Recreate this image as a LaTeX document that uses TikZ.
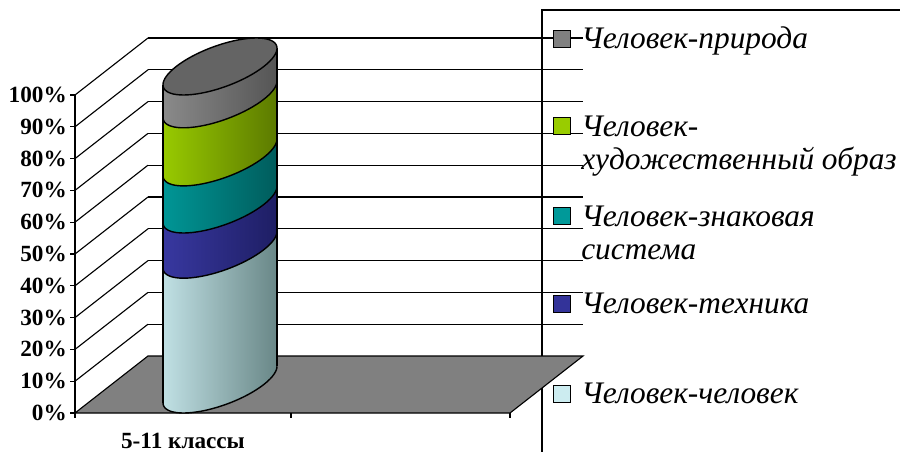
\documentclass[tikz,border=0pt]{standalone}
\usepackage{fontspec}
\setmainfont{Liberation Serif}[ItalicFont={Liberation Serif Italic}, BoldFont={Liberation Serif Bold}]

\definecolor{floorgray}{RGB}{128,128,128}
\definecolor{keyPriroda}{RGB}{128,128,128}
\definecolor{keyObraz}{RGB}{153,204,0}
\definecolor{keyZnak}{RGB}{0,153,153}
\definecolor{keyTech}{RGB}{51,51,153}
\definecolor{keyChel}{RGB}{204,236,240}
\definecolor{chelL}{RGB}{192,224,228}
\definecolor{chelR}{RGB}{105,135,135}
\definecolor{techL}{RGB}{56,56,160}
\definecolor{techR}{RGB}{30,30,100}
\definecolor{znakL}{RGB}{0,150,150}
\definecolor{znakR}{RGB}{0,92,92}
\definecolor{obrazL}{RGB}{152,202,0}
\definecolor{obrazR}{RGB}{92,122,0}
\definecolor{prirodaL}{RGB}{138,138,138}
\definecolor{prirodaR}{RGB}{85,85,85}
\definecolor{topgray}{RGB}{100,100,100}

% front arc of the cylinder at a given height
\newcommand{\cylarc}[3]{plot[domain=#1:#2, samples=40, smooth] ({220+43.8*cos(\x)+36.5*sin(\x)}, {#3-28.5*sin(\x)})}
\newcommand{\cylarcto}[3]{-- plot[domain=#1:#2, samples=40, smooth] ({220+43.8*cos(\x)+36.5*sin(\x)}, {#3-28.5*sin(\x)})}

\begin{document}
\begin{tikzpicture}[x=0.025cm, y=-0.025cm,
        every node/.style={inner sep=0pt},
        ylab/.style={anchor=east, font=\fontsize{16.5}{18}\selectfont\bfseries},
        legtext/.style={anchor=base west, font=\fontsize{22.3}{25}\selectfont\itshape},
        keybox/.style={draw, line width=0.6pt, minimum size=0.425cm},
        grid/.style={line width=0.8pt}]
        \useasboundingbox (0,0) rectangle (900,452);
        \clip (0,0) rectangle (900,452);

        % legend frame
        \draw[grid] (542,10) rectangle (920,480);

        % back wall
        \draw[grid] (148,38) -- (583,38);
        \draw[grid] (148,69.8) -- (583,69.8);
        \draw[grid] (148,101.6) -- (583,101.6);
        \draw[grid] (148,133.4) -- (583,133.4);
        \draw[grid] (148,165.2) -- (583,165.2);
        \draw[grid] (148,197) -- (583,197);
        \draw[grid] (148,228.8) -- (583,228.8);
        \draw[grid] (148,260.6) -- (583,260.6);
        \draw[grid] (148,292.4) -- (583,292.4);
        \draw[grid] (148,324.2) -- (583,324.2);

        % side wall
        \draw[grid] (75,95) -- (148,38);
        \draw[grid] (75,126.8) -- (148,69.8);
        \draw[grid] (75,158.6) -- (148,101.6);
        \draw[grid] (75,190.4) -- (148,133.4);
        \draw[grid] (75,222.2) -- (148,165.2);
        \draw[grid] (75,254) -- (148,197);
        \draw[grid] (75,285.8) -- (148,228.8);
        \draw[grid] (75,317.6) -- (148,260.6);
        \draw[grid] (75,349.4) -- (148,292.4);
        \draw[grid] (75,381.2) -- (148,324.2);

        % floor
        \draw[grid, fill=floorgray] (75,413) -- (510,413) -- (583,356) -- (148,356) -- cycle;

        % axes
        \draw[grid] (75,95) -- (75,413);
        \draw[grid] (70,95) -- (75,95);
        \draw[grid] (70,126.8) -- (75,126.8);
        \draw[grid] (70,158.6) -- (75,158.6);
        \draw[grid] (70,190.4) -- (75,190.4);
        \draw[grid] (70,222.2) -- (75,222.2);
        \draw[grid] (70,254) -- (75,254);
        \draw[grid] (70,285.8) -- (75,285.8);
        \draw[grid] (70,317.6) -- (75,317.6);
        \draw[grid] (70,349.4) -- (75,349.4);
        \draw[grid] (70,381.2) -- (75,381.2);
        \draw[grid] (70,413) -- (75,413);
        \draw[grid] (75,413) -- (75,418);
        \draw[grid] (291,413) -- (291,418);
        \draw[grid] (510,413) -- (510,418);

        % cylinder
        \shade[left color=chelL, right color=chelR] \cylarc{219.8}{399.8}{384.5} \cylarcto{399.8}{219.8}{249.7} -- cycle;
        \shade[left color=techL, right color=techR] \cylarc{219.8}{399.8}{249.7} \cylarcto{399.8}{219.8}{204.5} -- cycle;
        \shade[left color=znakL, right color=znakR] \cylarc{219.8}{399.8}{204.5} \cylarcto{399.8}{219.8}{157.4} -- cycle;
        \shade[left color=obrazL, right color=obrazR] \cylarc{219.8}{399.8}{157.4} \cylarcto{399.8}{219.8}{99.3} -- cycle;
        \shade[left color=prirodaL, right color=prirodaR] \cylarc{219.8}{399.8}{99.3} \cylarcto{399.8}{219.8}{66.5} -- cycle;
        \draw[line width=1pt] \cylarc{219.8}{399.8}{384.5};
        \draw[line width=1pt] \cylarc{219.8}{399.8}{249.7};
        \draw[line width=1pt] \cylarc{219.8}{399.8}{204.5};
        \draw[line width=1pt] \cylarc{219.8}{399.8}{157.4};
        \draw[line width=1pt] \cylarc{219.8}{399.8}{99.3};
        \draw[line width=1pt] (163,402.7) -- (163,84.7);
        \draw[line width=1pt] (277,366.3) -- (277,48.3);
        \draw[line width=1pt, fill=topgray] plot[domain=0:360, samples=73, smooth cycle] ({220+43.8*cos(\x)+36.5*sin(\x)}, {66.5-28.5*sin(\x)});

        % axis labels
        \node[ylab] (y100) at (67,95) {100\%};
        \node[ylab] (y90) at (67,126.8) {90\%};
        \node[ylab] (y80) at (67,158.6) {80\%};
        \node[ylab] (y70) at (67,190.4) {70\%};
        \node[ylab] (y60) at (67,222.2) {60\%};
        \node[ylab] (y50) at (67,254) {50\%};
        \node[ylab] (y40) at (67,285.8) {40\%};
        \node[ylab] (y30) at (67,317.6) {30\%};
        \node[ylab] (y20) at (67,349.4) {20\%};
        \node[ylab] (y10) at (67,381.2) {10\%};
        \node[ylab] (y0) at (67,413) {0\%};
        \node[anchor=base, font=\fontsize{16.5}{18}\selectfont\bfseries] (cat) at (183,448) {5-11 классы};

        % legend
        \node[keybox, fill=keyPriroda] (k1) at (561.5,38.5) {};
        \node[keybox, fill=keyObraz] (k2) at (561.5,126) {};
        \node[keybox, fill=keyZnak] (k3) at (561.5,215.5) {};
        \node[keybox, fill=keyTech] (k4) at (561.5,303.5) {};
        \node[keybox, fill=keyChel] (k5) at (561.5,393.5) {};
        \node[legtext] (t1) at (581,49) {Человек-природа};
        \node[legtext] (t2) at (581,137) {Человек-};
        \node[legtext] (t2b) at (581,170) {художественный образ};
        \node[legtext] (t3) at (581,227) {Человек-знаковая};
        \node[legtext] (t3b) at (581,260) {система};
        \node[legtext] (t4) at (581,314) {Человек-техника};
        \node[legtext] (t5) at (581,403) {Человек-человек};
    \end{tikzpicture}
\end{document}
